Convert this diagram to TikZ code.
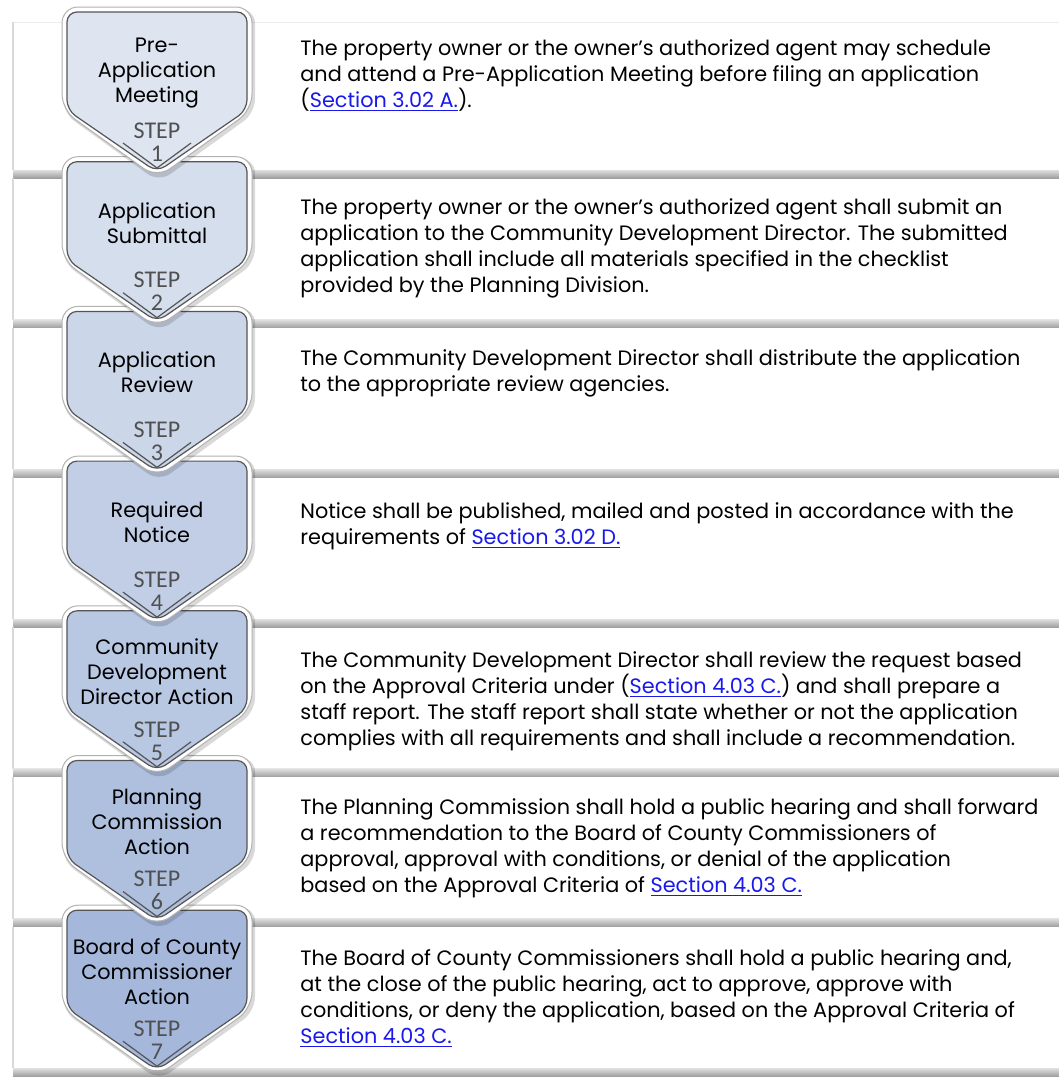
\documentclass[tikz,border=0pt]{standalone}
\usepackage{fontspec}
\setmainfont{Poppins}
\newfontfamily\stepfamily{Carlito}

\definecolor{linkBlue}{RGB}{25,25,235}
\definecolor{chevTop}{RGB}{222,229,240}
\definecolor{chevBot}{RGB}{165,184,219}
\definecolor{edgeGray}{RGB}{85,85,85}
\definecolor{stepGray}{RGB}{80,80,80}

\newcommand{\titlefont}{\fontsize{10.4}{12.5}\selectfont}
\newcommand{\descfont}{\fontsize{10.4}{13}\selectfont}
\newcommand{\stepfont}{\stepfamily\fontsize{12}{11.5}\selectfont}
\newcommand{\sect}[1]{{\color{linkBlue}\underline{#1}}}

% chevron outline: centre x, top y, inset
\newcommand{\chev}[3]{(#1-95+#3,#2+#3) -- (#1+95-#3,#2+#3) -- (#1+95-#3,#2+103) -- (#1,#2+171-1.2*#3) -- (#1-95+#3,#2+103) -- cycle}

\begin{document}
\begin{tikzpicture}[x=0.5pt,y=-0.5pt,
  panelshadow/.style={top color=gray!25, bottom color=gray!75},
  chevshadow/.style={fill=black, opacity=0.15, rounded corners=7},
  chevrim/.style={fill=white, draw=gray!60, line width=0.5pt, rounded corners=8},
  chevface/.style={draw=edgeGray, line width=0.6pt, rounded corners=5},
  chevtitle/.style={align=center, font=\titlefont, inner sep=0pt},
  steplbl/.style={align=center, font=\stepfont, text=stepGray, inner sep=0pt},
  desc/.style={anchor=north west, align=left, font=\descfont, inner sep=0pt}]
\path[use as bounding box,fill=white] (0,0) rectangle (1059,1078);

% panels
\draw[gray!15] (13,22) -- (1059,22);
\foreach \i in {1,...,7}{
  \pgfmathsetmacro\bot{170+(\i-1)*149.7}
  \pgfmathsetmacro\top{\i==1 ? 22 : \bot-141.7}
  \draw[gray!30, line width=0.6pt] (13,\top) -- (13,\bot);
  \shade[panelshadow] (13,\bot) rectangle (1059,\bot+8);
}

% chevrons, last first so that each point lies over the next one
\foreach \i/\ttl in {7/{Board of County\\Commissioner\\Action},
                     6/{Planning\\Commission\\Action},
                     5/{Community\\Development\\Director Action},
                     4/{Required\\Notice},
                     3/{Application\\Review},
                     2/{Application\\Submittal},
                     1/{Pre-\\Application\\Meeting}}{
  \pgfmathsetmacro\t{7+(\i-1)*149.7}
  \pgfmathtruncatemacro\pct{(\i-1)*100/6}
  \fill[chevshadow] \chev{159}{\t+3}{-1};
  \path[chevrim] \chev{157}{\t}{0};
  \path[chevface, fill=chevBot!\pct!chevTop] \chev{157}{\t}{5};
  \draw[edgeGray, line width=0.6pt] (123,\t+136) -- (157,\t+161) -- (191,\t+136);
  \node[chevtitle] (ttl\i) at (157,\t+66) {\ttl};
  \node[steplbl] (stp\i) at (157,\t+135) {STEP\\\i};
}

% descriptions
\node[desc] (dsc1) at (300,39) {The property owner or the owner’s authorized agent may schedule\\and attend a Pre-Application Meeting before filing an application\\(\sect{Section 3.02 A.}).};
\node[desc] (dsc2) at (300,198) {The property owner or the owner’s authorized agent shall submit an\\application to the Community Development Director. The submitted\\application shall include all materials specified in the checklist\\provided by the Planning Division.};
\node[desc] (dsc3) at (300,349) {The Community Development Director shall distribute the application\\to the appropriate review agencies.};
\node[desc] (dsc4) at (300,502) {Notice shall be published, mailed and posted in accordance with the\\requirements of \sect{Section 3.02 D.}};
\node[desc] (dsc5) at (300,651) {The Community Development Director shall review the request based\\on the Approval Criteria under (\sect{Section 4.03 C.}) and shall prepare a\\staff report. The staff report shall state whether or not the application\\complies with all requirements and shall include a recommendation.};
\node[desc] (dsc6) at (300,798) {The Planning Commission shall hold a public hearing and shall forward\\a recommendation to the Board of County Commissioners of\\approval, approval with conditions, or denial of the application\\based on the Approval Criteria of \sect{Section 4.03 C.}};
\node[desc] (dsc7) at (300,949) {The Board of County Commissioners shall hold a public hearing and,\\at the close of the public hearing, act to approve, approve with\\conditions, or deny the application, based on the Approval Criteria of\\\sect{Section 4.03 C.}};
\end{tikzpicture}
\end{document}
